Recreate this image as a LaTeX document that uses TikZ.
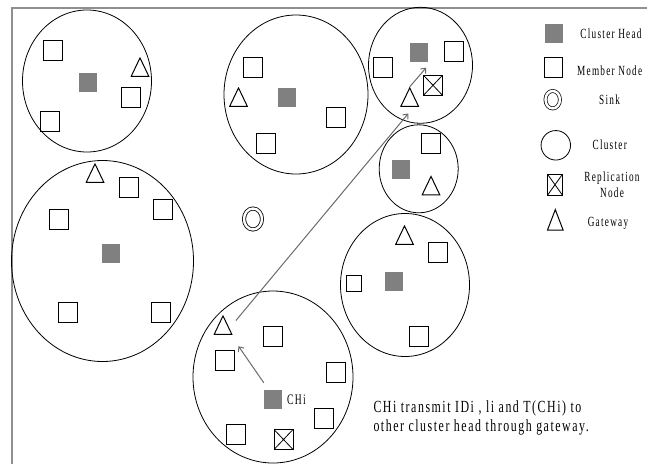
\documentclass[tikz,border=0pt]{standalone}
\usepackage{fontspec}
\setmainfont{Liberation Serif}
\newfontfamily\lbl[FakeStretch=0.66,LetterSpace=9]{Liberation Serif}
\newfontfamily\msgf[FakeStretch=0.7,LetterSpace=9]{Liberation Serif}
\usetikzlibrary{shapes.geometric,arrows.meta,calc}
\definecolor{chgray}{HTML}{808080}
\definecolor{arrgray}{HTML}{6A6A6A}
\definecolor{framegray}{HTML}{8F8F8F}
\begin{document}
\begin{tikzpicture}[x=1pt,y=-1pt,
  cluster/.style={ellipse, draw, line width=0.8pt, inner sep=0pt},
  head/.style={rectangle, fill=chgray, minimum width=18pt, minimum height=19pt, inner sep=0pt},
  member/.style={rectangle, draw, line width=1pt, minimum width=19pt, minimum height=20pt, inner sep=0pt},
  gate/.style={rectangle, inner sep=0pt, minimum width=19pt, minimum height=20pt,
    path picture={\draw[line width=1pt]
      ([shift={(0.7pt,0.7pt)}]path picture bounding box.south west) --
      ([shift={(-0.7pt,0.7pt)}]path picture bounding box.south east) --
      ([shift={(0pt,-0.9pt)}]path picture bounding box.north) -- cycle;}},
  rep/.style={member, path picture={\draw[line width=0.8pt]
      (path picture bounding box.south west) -- (path picture bounding box.north east)
      (path picture bounding box.north west) -- (path picture bounding box.south east);}},
  sink/.style={ellipse, draw, double, double distance=2.4pt, line width=0.8pt, inner sep=0pt},
  arr/.style={arrgray, line width=1pt, -{Straight Barb[length=4pt,width=7pt]}},
  lg/.style={font=\lbl\fontsize{14}{16}\selectfont, inner sep=0pt, anchor=base, align=center},
  msgtxt/.style={font=\msgf\fontsize{17}{19}\selectfont, inner sep=0pt, align=left}
]
\useasboundingbox (0,0) rectangle (647,464);
% frame
\draw[framegray, line width=2pt] (12,464) -- (12,7.5) -- (647,7.5);

% cluster 1
\node[cluster, minimum width=129pt, minimum height=142pt] (c1) at (87,81) {};
\node[member] (m1a) at (53,50) {};
\node[head] (ch1) at (88,82) {};
\node[gate] (gw1) at (140,67) {};
\node[member] (m1b) at (130.5,97) {};
\node[member] (m1c) at (49.5,121) {};

% cluster 2
\node[cluster, minimum width=144pt, minimum height=159pt] (c2) at (296,94.5) {};
\node[member] (m2a) at (253,67) {};
\node[gate] (gw2) at (238.5,97) {};
\node[head] (ch2) at (287,97) {};
\node[member] (m2b) at (336,117) {};
\node[member] (m2c) at (265.5,143) {};

% cluster 3
\node[cluster, minimum width=182pt, minimum height=201pt] (c3) at (102.5,261) {};
\node[gate] (gw3) at (95,173) {};
\node[member] (m3a) at (128.5,187) {};
\node[member] (m3b) at (58.5,219) {};
\node[member] (m3c) at (163,209) {};
\node[head] (ch3) at (111,253) {};
\node[member] (m3d) at (67.5,312.5) {};
\node[member] (m3e) at (161,312.5) {};

% cluster 4 (CHi)
\node[cluster, minimum width=160pt, minimum height=172pt] (c4) at (273,377) {};
\node[gate] (gw4) at (223,325) {};
\node[member] (m4a) at (272.5,336) {};
\node[member] (m4b) at (224.5,360) {};
\node[member] (m4c) at (336,372) {};
\node[head] (chi) at (273,399.5) {};
\node[font=\lbl\fontsize{14.5}{16}\selectfont, inner sep=0pt, anchor=base west] (chilabel) at (287,404.5) {CHi};
\node[member] (m4d) at (323.5,418) {};
\node[member] (m4e) at (236,434) {};
\node[rep] (r4) at (283.5,439.5) {};

% cluster 5
\node[cluster, minimum width=104pt, minimum height=116pt] (c5) at (420.5,65.3) {};
\node[member] (m5a) at (382.5,67) {};
\node[head] (ch5) at (419,52) {};
\node[member] (m5b) at (454,51) {};
\node[rep] (r5) at (433,85.3) {};
\node[gate] (gw5) at (409.7,97) {};

% cluster 6
\node[cluster, minimum width=79pt, minimum height=88pt] (c6) at (418.7,168.8) {};
\node[member] (m6a) at (431,143) {};
\node[head] (ch6) at (401.3,169) {};
\node[gate] (gw6) at (431,185.5) {};

% cluster 7
\node[cluster, minimum width=129pt, minimum height=143pt] (c7) at (405,285) {};
\node[gate] (gw7) at (404.5,235) {};
\node[member] (m7a) at (438.3,252.8) {};
\node[member, minimum width=15pt, minimum height=16pt] (m7b) at (354,283) {};
\node[head] (ch7) at (394,281) {};
\node[member] (m7c) at (418.5,336.3) {};

% sink
\node[sink, minimum width=18pt, minimum height=21pt] (sink) at (253,219) {};

% arrows
\draw[arr] ($(chi.north west)+(0,-7)$) -- ($(gw4.south east)+(5.8,11)$);
\draw[arr] ($(gw4.north east)+(3.2,5.7)$) -- ($(gw5.south)+(-1.4,6.3)$);
\draw[arr] (gw5.north) -- ($(ch5.south east)+(-2,6)$);

% message (base anchor = baseline of last line)
\node[msgtxt, anchor=base west] (msg) at (373.3,431.5) {CHi transmit IDi , li and T(CHi) to\\other cluster head through gateway.};

% legend
\node[head, minimum width=18pt, minimum height=19pt] (lch) at (553.8,33.7) {};
\node[member, minimum width=18pt, minimum height=20pt] (lmem) at (553,67.5) {};
\node[sink, double distance=2.4pt, line width=0.7pt, minimum width=14.5pt, minimum height=17.5pt] (lsink) at (552.7,99.7) {};
\node[cluster, minimum width=29.5pt, minimum height=29.5pt] (lcl) at (555.8,145.3) {};
\node[rep, minimum width=15pt, minimum height=21pt] (lrep) at (555,184.7) {};
\node[gate, minimum width=17pt, minimum height=22pt] (lgw) at (555.3,219.7) {};

\node[lg] (tch) at (611,38) {Cluster Head};
\node[lg, anchor=base west] (tmem) at (577,75.5) {Member Node};
\node[lg] (tsink) at (609.5,104.5) {Sink};
\node[lg] (tcl) at (609.7,149.5) {Cluster};
\node[lg] (trep) at (612,197) {Replication\\Node};
\node[lg] (tgw) at (608,226.5) {Gateway};
\end{tikzpicture}
\end{document}
